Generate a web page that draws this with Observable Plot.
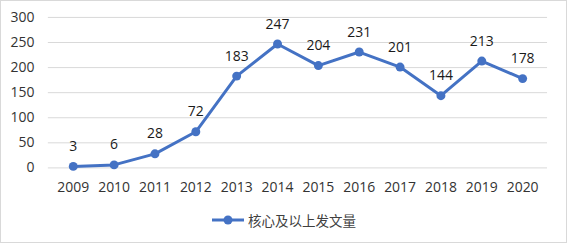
<!DOCTYPE html>
<html><head><meta charset="utf-8">
<script src="https://cdn.jsdelivr.net/npm/d3@7"></script>
<script src="https://cdn.jsdelivr.net/npm/@observablehq/plot@0.6"></script>
<style>
html,body{margin:0;padding:0;background:#fff;}
#chart{width:567px;height:243px;box-sizing:border-box;border:1px solid #d9d9d9;position:relative;font-family:"Open Sans","Noto Sans CJK SC",sans-serif;overflow:hidden;}
#chart svg{position:absolute;left:-1px;top:-1px;}
#legend{position:absolute;left:0;right:0;top:209px;display:flex;justify-content:center;align-items:center;font-size:13.5px;color:#404040;font-family:"Noto Sans CJK SC",sans-serif;}
#legend svg{position:static;margin-right:3px;}
</style></head>
<body><div id="chart"><div id="legend"></div></div>
<script>
const years = ["2009","2010","2011","2012","2013","2014","2015","2016","2017","2018","2019","2020"];
const counts = [3,6,28,72,183,247,204,231,201,144,213,178];
const yTicks = [0,50,100,150,200,250,300];
const seriesName = "核心及以上发文量";
const color = "#4472C4";

const data = years.map((y,i)=>({year:y, value:counts[i]}));

const plot = Plot.plot({
  width:567, height:200,
  marginTop:17, marginBottom:32, marginLeft:48, marginRight:18,
  style:{fontFamily:"Open Sans, sans-serif", fontSize:"14px", color:"#333", background:"transparent"},
  x:{type:"point", domain:years, padding:0.5, label:null},
  y:{domain:[0,300], label:null},
  marks:[
    Plot.gridY(yTicks,{stroke:"#d9d9d9", strokeOpacity:1, strokeWidth:1}),
    Plot.axisY(yTicks,{tickSize:0, tickPadding:14, label:null, fontSize:14}),
    Plot.axisX({tickSize:0, tickPadding:14, label:null, fontSize:14}),
    Plot.line(data,{x:"year", y:"value", stroke:color, strokeWidth:3}),
    Plot.dot(data,{x:"year", y:"value", fill:color, r:4.5}),
    Plot.text(data,{x:"year", y:"value", text:d=>String(d.value), dy:-20, fill:"#1a1a1a", fontSize:14})
  ]
});
document.getElementById("chart").prepend(plot);

const lg = document.getElementById("legend");
lg.innerHTML = `<svg width="34" height="10"><line x1="1" y1="5" x2="33" y2="5" stroke="${color}" stroke-width="3"/><circle cx="17" cy="5" r="4.5" fill="${color}"/></svg><span>${seriesName}</span>`;
</script></body></html>
